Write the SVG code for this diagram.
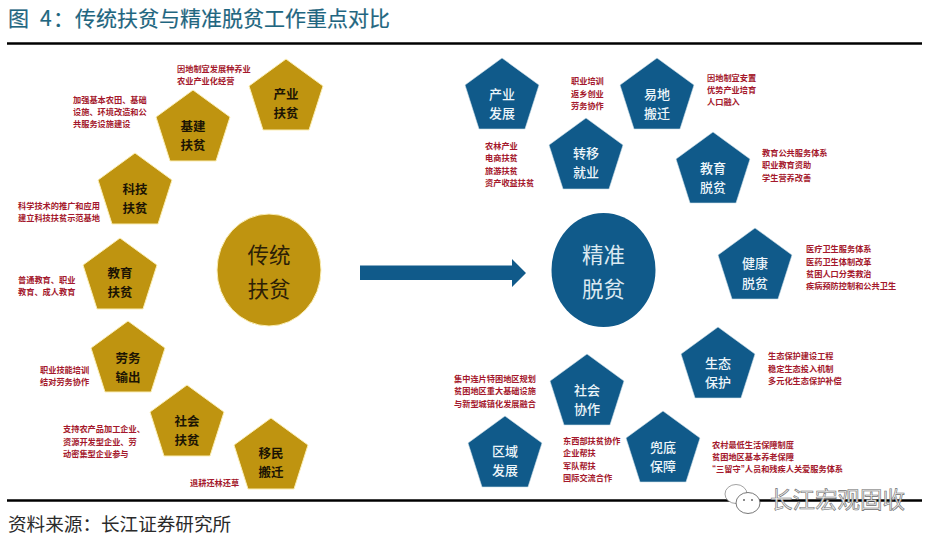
<svg xmlns="http://www.w3.org/2000/svg" width="935" height="541" viewBox="0 0 935 541">
<style>
text{font-family:"Noto Sans CJK SC","Noto Sans",sans-serif}
.g{fill:#bf9410;stroke:#fbeeb4;stroke-width:1}
.b{fill:#105a8a;stroke:#cfe0ea;stroke-width:.6}
.gl{font-size:12.500px;font-weight:700;fill:#1c1404;text-anchor:middle;dominant-baseline:central}
.bl{font-size:13px;font-weight:500;fill:#eef6fa;text-anchor:middle;dominant-baseline:central}
.r{font-size:8.200px;font-weight:700;fill:#a4182c;dominant-baseline:central}
.q{font-family:"Liberation Sans",sans-serif}
.c{font-size:21.500px;text-anchor:middle;dominant-baseline:central}
.rule{stroke:#000;stroke-width:2.400}
</style>
<defs>
<polygon id="p" points="0,0 37,27 23,71 -23,71 -37,27"/>
</defs>
<rect width="935" height="541" fill="#fff"/>
<text y="26" font-size="21" fill="#1f6680" stroke="#1f6680" stroke-width=".2"><tspan x="8">图</tspan><tspan x="40">4</tspan><tspan x="53">：</tspan><tspan x="75">传统扶贫与精准脱贫工作重点对比</tspan></text>
<line class="rule" x1="7" y1="43.500" x2="922" y2="43.500"/>
<line class="rule" x1="7" y1="500.500" x2="922" y2="500.500"/>
<text x="8" y="531" font-size="18.600" fill="#2a2a2a">资料来源：长江证券研究所</text>

<g id="connectors">
<polygon points="360,265.500 512,265.500 512,259 526,273 512,287 512,280 360,280" fill="#105a8a"/>
</g>

<g id="center-traditional"><ellipse class="g" cx="269" cy="270" rx="52" ry="56"/>
<text class="c" x="269" y="253" fill="#2c2006">传统</text>
<text class="c" x="269" y="287" fill="#2c2006">扶贫</text></g>
<g id="center-precise"><ellipse cx="603.500" cy="270" rx="52" ry="57" fill="#105a8a"/>
<text class="c" x="603.500" y="253" fill="#dbe9f1">精准</text>
<text class="c" x="603.500" y="287" fill="#dbe9f1">脱贫</text></g>

<g id="g-chanye"><use href="#p" class="g" x="286" y="59"/><text class="gl" x="286" y="93">产业</text><text class="gl" x="286" y="112">扶贫</text>
<text class="r" x="177" y="68">因地制宜发展种养业</text><text class="r" x="177" y="80">农业产业化经营</text></g>
<g id="g-jijian"><use href="#p" class="g" x="193" y="90"/><text class="gl" x="193" y="125">基建</text><text class="gl" x="193" y="144">扶贫</text>
<text class="r" x="73" y="99">加强基本农田、基础</text><text class="r" x="73" y="111">设施、环境改造和公</text><text class="r" x="73" y="123">共服务设施建设</text></g>
<g id="g-keji"><use href="#p" class="g" x="135" y="153"/><text class="gl" x="135" y="188">科技</text><text class="gl" x="135" y="207">扶贫</text>
<text class="r" x="18" y="205">科学技术的推广和应用</text><text class="r" x="18" y="217">建立科技扶贫示范基地</text></g>
<g id="g-jiaoyu"><use href="#p" class="g" x="120" y="238"/><text class="gl" x="120" y="272">教育</text><text class="gl" x="120" y="291">扶贫</text>
<text class="r" x="18" y="279">普通教育、职业</text><text class="r" x="18" y="291">教育、成人教育</text></g>
<g id="g-laowu"><use href="#p" class="g" x="128" y="321"/><text class="gl" x="128" y="357">劳务</text><text class="gl" x="128" y="376">输出</text>
<text class="r" x="40" y="369">职业技能培训</text><text class="r" x="40" y="381">结对劳务协作</text></g>
<g id="g-shehui"><use href="#p" class="g" x="187" y="385"/><text class="gl" x="187" y="420">社会</text><text class="gl" x="187" y="439">扶贫</text>
<text class="r" x="63" y="428">支持农产品加工企业、</text><text class="r" x="63" y="441">资源开发型企业、劳</text><text class="r" x="63" y="453">动密集型企业参与</text></g>
<g id="g-yimin"><use href="#p" class="g" x="271" y="418"/><text class="gl" x="271" y="452">移民</text><text class="gl" x="271" y="471">搬迁</text>
<text class="r" x="190" y="482">退耕还林还草</text></g>

<g id="b-chanye"><use href="#p" class="b" x="502" y="58"/><text class="bl" x="502" y="93">产业</text><text class="bl" x="502" y="112">发展</text>
<text class="r" x="485" y="145">农林产业</text><text class="r" x="485" y="157">电商扶贫</text><text class="r" x="485" y="170">旅游扶贫</text><text class="r" x="485" y="182">资产收益扶贫</text></g>
<g id="b-zhuanyi"><use href="#p" class="b" x="586" y="118"/><text class="bl" x="586" y="152">转移</text><text class="bl" x="586" y="171">就业</text>
<text class="r" x="571" y="80">职业培训</text><text class="r" x="571" y="93">返乡创业</text><text class="r" x="571" y="105">劳务协作</text></g>
<g id="b-yidi"><use href="#p" class="b" x="657" y="58"/><text class="bl" x="657" y="93">易地</text><text class="bl" x="657" y="112">搬迁</text>
<text class="r" x="707" y="77">因地制宜安置</text><text class="r" x="707" y="89">优势产业培育</text><text class="r" x="707" y="101">人口融入</text></g>
<g id="b-jiaoyu"><use href="#p" class="b" x="713" y="132"/><text class="bl" x="713" y="167">教育</text><text class="bl" x="713" y="186">脱贫</text>
<text class="r" x="762" y="152">教育公共服务体系</text><text class="r" x="762" y="164">职业教育资助</text><text class="r" x="762" y="177">学生营养改善</text></g>
<g id="b-jiankang"><use href="#p" class="b" x="755" y="228"/><text class="bl" x="755" y="262">健康</text><text class="bl" x="755" y="282">脱贫</text>
<text class="r" x="806" y="248">医疗卫生服务体系</text><text class="r" x="806" y="261">医药卫生体制改革</text><text class="r" x="806" y="273">贫困人口分类救治</text><text class="r" x="806" y="285">疾病预防控制和公共卫生</text></g>
<g id="b-shengtai"><use href="#p" class="b" x="718" y="327"/><text class="bl" x="718" y="362">生态</text><text class="bl" x="718" y="381">保护</text>
<text class="r" x="768" y="355">生态保护建设工程</text><text class="r" x="768" y="368">稳定生态投入机制</text><text class="r" x="768" y="380">多元化生态保护补偿</text></g>
<g id="b-doudi"><use href="#p" class="b" x="663" y="411"/><text class="bl" x="663" y="446">兜底</text><text class="bl" x="663" y="465">保障</text>
<text class="r" x="712" y="444">农村最低生活保障制度</text><text class="r" x="712" y="456">贫困地区基本养老保障</text><text class="r" x="712" y="468"><tspan class="q">“</tspan>三留守<tspan class="q">”</tspan>人员和残疾人关爱服务体系</text></g>
<g id="b-shehui"><use href="#p" class="b" x="587" y="354"/><text class="bl" x="587" y="389">社会</text><text class="bl" x="587" y="408">协作</text>
<text class="r" x="563" y="440">东西部扶贫协作</text><text class="r" x="563" y="452">企业帮扶</text><text class="r" x="563" y="465">军队帮扶</text><text class="r" x="563" y="477">国际交流合作</text></g>
<g id="b-quyu"><use href="#p" class="b" x="505" y="416"/><text class="bl" x="505" y="450">区域</text><text class="bl" x="505" y="469">发展</text>
<text class="r" x="454" y="378">集中连片特困地区规划</text><text class="r" x="454" y="390">贫困地区重大基础设施</text><text class="r" x="454" y="403">与新型城镇化发展融合</text></g>

<g id="watermark">
<ellipse cx="736" cy="494" rx="11" ry="9.500" fill="#fff" stroke="#8a8a8a" stroke-width=".8"/>
<ellipse cx="748" cy="503" rx="12" ry="10.500" fill="#fff" stroke="#555" stroke-width=".8"/>
<circle cx="744" cy="500" r="1" fill="#666"/><circle cx="752" cy="500" r="1" fill="#666"/>
<text x="770" y="508" font-size="22.500" fill="#ececec" stroke="#6e6e6e" stroke-width=".6">长江宏观固收</text>
</g>
</svg>
